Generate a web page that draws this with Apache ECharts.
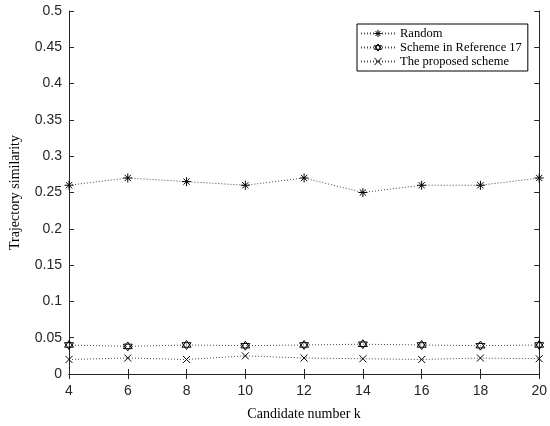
<!DOCTYPE html>
<html>
<head>
<meta charset="utf-8">
<script src="https://cdn.jsdelivr.net/npm/echarts@6/dist/echarts.min.js"></script>
<style>
  html, body { margin: 0; padding: 0; background: #fff; }
  #chart { width: 550px; height: 426px; }
</style>
</head>
<body>
<div id="chart"></div>
<script>
// candidate number k
const candidates = [4, 6, 8, 10, 12, 14, 16, 18, 20];

// trajectory similarity per scheme
const randomValues = [0.26, 0.27, 0.265, 0.26, 0.27, 0.25, 0.26, 0.26, 0.27];
const reference17Values = [0.04, 0.038, 0.04, 0.039, 0.04, 0.041, 0.04, 0.039, 0.04];
const proposedValues = [0.02, 0.022, 0.02, 0.025, 0.022, 0.021, 0.02, 0.022, 0.021];

const seriesNames = ['Random', 'Scheme in Reference 17', 'The proposed scheme'];

/* -------------------------------------------------------------------------- */
/*                               marker shapes                                */
/* -------------------------------------------------------------------------- */

const asterisk =
  'path://M0,-5L0,5M-5,0L5,0M-3.5,-3.5L3.5,3.5M-3.5,3.5L3.5,-3.5';
const hexagram =
  'path://M0,-5L4.33,2.5L-4.33,2.5Z M0,5L4.33,-2.5L-4.33,-2.5Z';
const cross = 'path://M-4,-4L4,4M-4,4L4,-4';

const tickFont = 'Liberation Sans, Arial, sans-serif';
const serifFont = 'Liberation Serif, Times New Roman, serif';
const axisColor = '#262626';

const chart = echarts.init(document.getElementById('chart'));

const pairs = values => candidates.map((k, i) => [k, values[i]]);

const makeSeries = (name, values, symbol, size) => ({
  name,
  type: 'line',
  data: pairs(values),
  symbol,
  symbolSize: size,
  showSymbol: true,
  lineStyle: { type: [1, 2], width: 1, color: '#444' },
  itemStyle: { color: 'none', borderColor: '#000', borderWidth: 1 },
  emphasis: { disabled: true }
});

const boxAxis = {
  axisLine: { show: true, lineStyle: { color: axisColor, width: 1 } },
  axisTick: { show: true, inside: true, length: 5, lineStyle: { color: axisColor } },
  splitLine: { show: false }
};

chart.setOption({
  animation: false,
  grid: { left: 60, right: 5, top: 11, bottom: 44 },
  legend: {
    data: seriesNames,
    orient: 'vertical',
    left: 357,
    top: 24,
    width: 168,
    itemWidth: 34,
    itemHeight: 9,
    itemGap: 1,
    padding: [3, 6, 3, 3],
    borderColor: '#000',
    borderWidth: 1,
    backgroundColor: '#fff',
    itemStyle: { borderWidth: 1 },
    textStyle: { fontFamily: serifFont, fontSize: 12.5, color: '#000' }
  },
  xAxis: [
    {
      type: 'value',
      min: 4,
      max: 20,
      interval: 2,
      name: 'Candidate number k',
      nameLocation: 'middle',
      nameGap: 33,
      nameTextStyle: { fontFamily: serifFont, fontSize: 14, color: '#000' },
      axisLabel: { fontFamily: tickFont, fontSize: 14, color: axisColor, margin: 10 },
      ...boxAxis
    },
    {
      type: 'value',
      position: 'top',
      min: 4,
      max: 20,
      interval: 2,
      axisLabel: { show: false },
      ...boxAxis
    }
  ],
  yAxis: [
    {
      type: 'value',
      min: 0,
      max: 0.5,
      interval: 0.05,
      name: 'Trajectory similarity',
      nameLocation: 'middle',
      nameGap: 47,
      nameTextStyle: { fontFamily: serifFont, fontSize: 14, color: '#000' },
      axisLabel: { fontFamily: tickFont, fontSize: 14, color: axisColor, margin: 7 },
      ...boxAxis
    },
    {
      type: 'value',
      position: 'right',
      min: 0,
      max: 0.5,
      interval: 0.05,
      axisLabel: { show: false },
      ...boxAxis
    }
  ],
  series: [
    makeSeries(seriesNames[0], randomValues, asterisk, 9),
    makeSeries(seriesNames[1], reference17Values, hexagram, 9),
    makeSeries(seriesNames[2], proposedValues, cross, 7)
  ]
});
</script>
</body>
</html>
